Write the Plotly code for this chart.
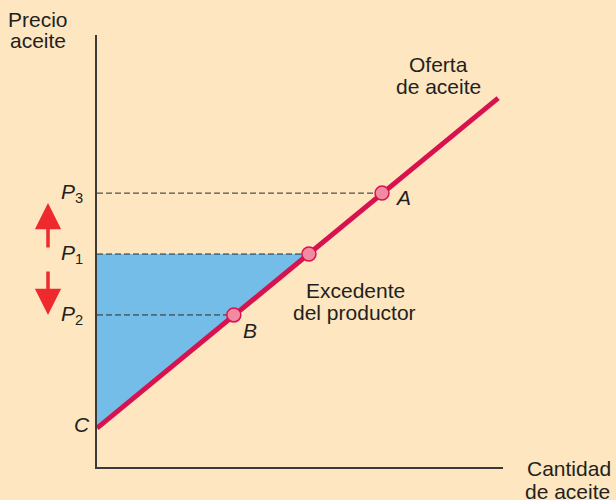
import plotly.graph_objects as go

# Data (axis units arbitrary 0-10)
supply_q = [0.0, 9.88]
supply_p = [0.90, 8.54]
point_q = [3.37, 5.22, 7.02]      # B, P1 equilibrium, A
point_p = [3.52, 4.93, 6.34]      # P2, P1, P3
price_labels = ["<i>P</i><sub>2</sub>", "<i>P</i><sub>1</sub>", "<i>P</i><sub>3</sub>"]

BG = "#FDE6C0"
RED = "#D8124F"
PINK = "#F28BA2"
BLUE = "#74BDE8"
DARK = "#231F20"
FONT = "Liberation Sans, Arial, sans-serif"

W, H = 616, 500
ML, MR, MT, MB = 97, 113, 35, 33
PW, PH = W - ML - MR, H - MT - MB

fig = go.Figure()

# producer surplus triangle
fig.add_trace(go.Scatter(
    x=[0, point_q[1], 0, 0], y=[supply_p[0], point_p[1], point_p[1], supply_p[0]],
    fill="toself", fillcolor=BLUE, line=dict(width=0), mode="lines",
    hoverinfo="skip", showlegend=False))

# dashed price lines
for q, p in zip(point_q, point_p):
    fig.add_trace(go.Scatter(x=[0, q], y=[p, p], mode="lines",
                             line=dict(color="#2a2a2a", width=1, dash="6px,3px"),
                             showlegend=False, hoverinfo="skip"))

# supply line
fig.add_trace(go.Scatter(x=supply_q, y=supply_p, mode="lines",
                         line=dict(color=RED, width=5), showlegend=False))

# points
fig.add_trace(go.Scatter(x=point_q, y=point_p, mode="markers",
                         marker=dict(size=14, color=PINK, line=dict(color=RED, width=1.5)),
                         showlegend=False, cliponaxis=False))

XR, YR = 10.0, 10.0
ann = []

def px(xp, yp):
    return (xp - ML) / PW, (H - MB - yp) / PH

def label(xp, yp, t, size=21, xa="center"):
    x, y = px(xp, yp)
    ann.append(dict(x=x, y=y, xref="paper", yref="paper", text=t, showarrow=False,
                    font=dict(size=size, color=DARK, family=FONT),
                    xanchor=xa, yanchor="middle", align="center"))

label(38, 19, "Precio")
label(38, 41, "aceite")
label(438, 64, "Oferta")
label(438, 86, "de aceite")
label(355, 290, "Excedente")
label(354, 312, "del productor")
label(569, 469, "Cantidad")
label(567, 491, "de aceite")

for p, lab in zip(point_p, price_labels):
    ann.append(dict(x=-0.3 / XR, y=p / YR, xref="paper", yref="paper", text=lab,
                    showarrow=False, font=dict(size=21, color=DARK, family=FONT),
                    xanchor="right", yanchor="middle"))
label(403, 197, "<i>A</i>")
label(250, 330, "<i>B</i>")
label(82, 424, "<i>C</i>")

# red arrows (head position, tail offset in pixels)
for yhead, off in [(203, 46), (315, -45)]:
    x, y = px(48, yhead)
    ann.append(dict(x=x, y=y, xref="paper", yref="paper",
                    ax=0, ay=off, axref="pixel", ayref="pixel",
                    showarrow=True, arrowhead=2, arrowsize=1.5, arrowwidth=3.5,
                    arrowcolor="#EE2A2F", text=""))

fig.update_layout(
    width=W, height=H,
    margin=dict(l=ML, r=MR, t=MT, b=MB),
    paper_bgcolor=BG, plot_bgcolor=BG,
    annotations=ann,
    xaxis=dict(range=[0, XR], showgrid=False, zeroline=False, showticklabels=False,
               showline=True, linecolor="#3a3a3a", linewidth=1.5, ticks=""),
    yaxis=dict(range=[0, YR], showgrid=False, zeroline=False, showticklabels=False,
               showline=True, linecolor="#3a3a3a", linewidth=1.5, ticks=""),
)

fig.write_html("out.html", config={"displayModeBar": False},
               post_script="document.body.style.margin='0';")
